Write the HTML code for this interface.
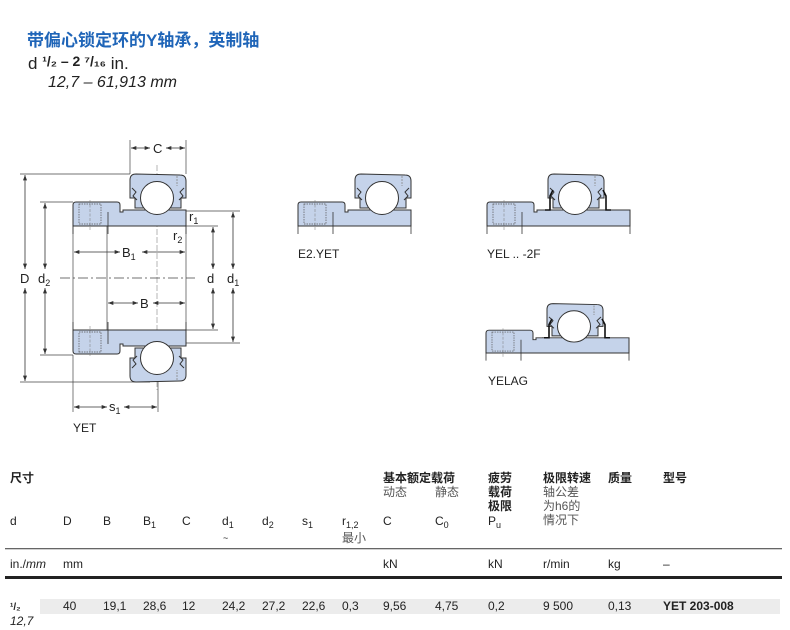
<!DOCTYPE html>
<html><head><meta charset="utf-8"><style>
body{margin:0;background:#fff;width:790px;height:630px;overflow:hidden;font-family:"Liberation Sans","Noto Sans CJK SC",sans-serif;}
svg{position:absolute;left:0;top:0}
</style></head><body>
<svg width="790" height="630" viewBox="0 0 790 630" xmlns="http://www.w3.org/2000/svg" font-family="Liberation Sans, Noto Sans CJK SC, sans-serif">
<defs>
<g id="collar">
  <path d="M0,-21 Q0,-24 3,-24 L44,-24 Q47,-24 47,-21 L47,-14 L50,-14 L50,-16 L57,-16 L57,0 L0,0 Z" fill="#c5d3ea" stroke="#333" stroke-width="1"/>
  <line x1="35" y1="-14" x2="35" y2="0" stroke="#333" stroke-width="0.8"/>
  <rect x="6" y="-22" width="22" height="20" fill="none" stroke="#555" stroke-width="0.7" stroke-dasharray="1.5,1"/>
  <line x1="17" y1="-26" x2="17" y2="4" stroke="#777" stroke-width="0.5" stroke-dasharray="3,1.5"/>
  <line x1="0" y1="0" x2="0" y2="8" stroke="#333" stroke-width="0.8"/>
  <line x1="35" y1="0" x2="35" y2="8" stroke="#333" stroke-width="0.8"/>
</g>
<g id="outer">
  <path d="M0,-46 Q0,-52 6,-52 L50,-51 Q56,-51 56,-45 L56,-28 L51,-28 L51,-18 L5,-18 L5,-28 L0,-28 Z" fill="#c5d3ea" stroke="#333" stroke-width="1"/>
  <path d="M2,-38 l4,4 l-3,4 l4,4 M54,-38 l-4,4 l3,4 l-4,4" fill="none" stroke="#333" stroke-width="1"/>
  <line x1="47" y1="-50" x2="47" y2="-40" stroke="#888" stroke-width="0.8" stroke-dasharray="2,1"/>
  <circle cx="27" cy="-28" r="16.5" fill="#fff" stroke="#333" stroke-width="1"/>
</g>
<g id="half">
  <use href="#collar"/>
  <path d="M56,-16 L113,-16 L113,0 L56,0" fill="#c5d3ea" stroke="#333" stroke-width="1"/>
  <use href="#outer" transform="translate(57,0)"/>
  <line x1="113" y1="0" x2="113" y2="8" stroke="#333" stroke-width="0.8"/>
</g>
<g id="half2">
  <use href="#collar"/>
  <path d="M56,-16 L143,-16 L143,0 L56,0" fill="#c5d3ea" stroke="#333" stroke-width="1"/>
  <use href="#outer" transform="translate(61,0)"/>
  <path d="M58,-16 L63,-16 L63,-30 L66,-36 M124,-16 L119,-16 L119,-30 L116,-36" fill="none" stroke="#111" stroke-width="1.6"/>
  <line x1="143" y1="0" x2="143" y2="8" stroke="#333" stroke-width="0.8"/>
</g>
<marker id="ar" viewBox="0 0 8 6" refX="8" refY="3" markerWidth="7" markerHeight="5" orient="auto-start-reverse"><path d="M0,0 L8,3 L0,6 Z" fill="#333"/></marker>
</defs>

<text x="27" y="46" font-size="17" font-weight="bold" fill="#1f65b8">带偏心锁定环的Y轴承，英制轴</text>
<text x="28" y="69" font-size="17" fill="#222">d <tspan font-weight="bold" font-size="14" dy="-3">¹/₂ – 2 ⁷/₁₆</tspan><tspan dy="3"> in.</tspan></text>
<text x="48" y="87" font-size="16" font-style="italic" fill="#222">12,7 – 61,913 mm</text>

<!-- main drawing -->
<g stroke="#444" stroke-width="0.7" fill="none">
<line x1="20" y1="174" x2="130" y2="174"/><line x1="20" y1="382" x2="150" y2="382"/>
<line x1="40" y1="202" x2="73" y2="202"/><line x1="40" y1="355" x2="73" y2="355"/>
<line x1="186" y1="211" x2="240" y2="211"/><line x1="186" y1="343" x2="240" y2="343"/>
<line x1="186" y1="226" x2="218" y2="226"/><line x1="186" y1="330" x2="218" y2="330"/>
<line x1="130" y1="140" x2="130" y2="174"/><line x1="186" y1="140" x2="186" y2="174"/>
<line x1="73" y1="355" x2="73" y2="412"/><line x1="158" y1="382" x2="158" y2="412"/>
<line x1="73" y1="226" x2="73" y2="330"/><line x1="107" y1="226" x2="107" y2="330"/><line x1="186" y1="226" x2="186" y2="330"/>
<line x1="60" y1="278" x2="195" y2="278" stroke-dasharray="10,3,2,3"/>
<line x1="157" y1="165" x2="157" y2="390" stroke-dasharray="6,2" stroke-width="0.4"/>
</g>
<g stroke="#333" stroke-width="0.8" marker-start="url(#ar)" marker-end="url(#ar)">
<line x1="25" y1="175" x2="25" y2="269"/><line x1="25" y1="288" x2="25" y2="381"/>
<line x1="45" y1="203" x2="45" y2="269"/><line x1="45" y1="288" x2="45" y2="354"/>
<line x1="213" y1="227" x2="213" y2="269"/><line x1="213" y1="288" x2="213" y2="329"/>
<line x1="233" y1="212" x2="233" y2="269"/><line x1="233" y1="288" x2="233" y2="342"/>
<line x1="74" y1="252" x2="120" y2="252"/><line x1="142" y1="252" x2="185" y2="252"/>
<line x1="108" y1="303" x2="138" y2="303"/><line x1="153" y1="303" x2="185" y2="303"/>
<line x1="131" y1="148" x2="150" y2="148"/><line x1="166" y1="148" x2="185" y2="148"/>
<line x1="74" y1="407" x2="107" y2="407"/><line x1="124" y1="407" x2="157" y2="407"/>
</g>
<use href="#half" transform="translate(73,226)"/>
<use href="#half" transform="translate(73,330) scale(1,-1)"/>
<g font-size="13" fill="#222">
<text x="20" y="283">D</text><text x="38" y="283">d<tspan font-size="9" dy="3">2</tspan></text>
<text x="122" y="257">B<tspan font-size="9" dy="3">1</tspan></text><text x="140" y="308">B</text>
<text x="207" y="283">d</text><text x="227" y="283">d<tspan font-size="9" dy="3">1</tspan></text>
<text x="189" y="221">r<tspan font-size="9" dy="3">1</tspan></text><text x="173" y="240">r<tspan font-size="9" dy="3">2</tspan></text>
<text x="153" y="153">C</text><text x="109" y="411">s<tspan font-size="9" dy="3">1</tspan></text>
<text x="73" y="432" font-size="12">YET</text>
</g>

<use href="#half" transform="translate(298,226)"/>
<text x="298" y="258" font-size="12" fill="#222">E2.YET</text>
<use href="#half2" transform="translate(487,226)"/>
<text x="487" y="258" font-size="12" fill="#222">YEL .. -2F</text>
<use href="#half2" transform="translate(486,353) scale(1,0.95)"/>
<text x="488" y="385" font-size="12" fill="#222">YELAG</text>

<!-- table -->
<g font-size="12" fill="#222">
<text x="10" y="482" font-weight="bold">尺寸</text>
<text x="383" y="482" font-weight="bold">基本额定载荷</text>
<text x="383" y="496" fill="#555">动态</text><text x="435" y="496" fill="#555">静态</text>
<text x="488" y="482" font-weight="bold">疲劳</text><text x="488" y="496" font-weight="bold">载荷</text><text x="488" y="510" font-weight="bold">极限</text>
<text x="543" y="482" font-weight="bold">极限转速</text>
<text x="543" y="496" fill="#555">轴公差</text><text x="543" y="510" fill="#555">为h6的</text><text x="543" y="524" fill="#555">情况下</text>
<text x="608" y="482" font-weight="bold">质量</text><text x="663" y="482" font-weight="bold">型号</text>
<text x="10" y="525">d</text><text x="63" y="525">D</text><text x="103" y="525">B</text>
<text x="143" y="525">B<tspan font-size="9" dy="3">1</tspan></text><text x="182" y="525">C</text>
<text x="222" y="525">d<tspan font-size="9" dy="3">1</tspan></text><text x="223" y="541" font-size="9">~</text>
<text x="262" y="525">d<tspan font-size="9" dy="3">2</tspan></text><text x="302" y="525">s<tspan font-size="9" dy="3">1</tspan></text>
<text x="342" y="525">r<tspan font-size="9" dy="3">1,2</tspan></text><text x="342" y="542" fill="#555">最小</text>
<text x="383" y="525">C</text><text x="435" y="525">C<tspan font-size="9" dy="3">0</tspan></text>
<text x="488" y="525">P<tspan font-size="9" dy="3">u</tspan></text>
<text x="10" y="568">in./<tspan font-style="italic">mm</tspan></text><text x="63" y="568">mm</text>
<text x="383" y="568">kN</text><text x="488" y="568">kN</text><text x="543" y="568">r/min</text><text x="608" y="568">kg</text><text x="663" y="568">–</text>
</g>
<rect x="5" y="548" width="777" height="1.3" fill="#666"/>
<rect x="5" y="576" width="777" height="3" fill="#222"/>
<rect x="40" y="599" width="740" height="15" fill="#ececec"/>
<g font-size="12" fill="#222">
<text x="10" y="610" font-weight="bold" font-size="10">¹/₂</text><text x="10" y="625" font-style="italic">12,7</text>
<text x="63" y="610">40</text><text x="103" y="610">19,1</text><text x="143" y="610">28,6</text><text x="182" y="610">12</text>
<text x="222" y="610">24,2</text><text x="262" y="610">27,2</text><text x="302" y="610">22,6</text><text x="342" y="610">0,3</text>
<text x="383" y="610">9,56</text><text x="435" y="610">4,75</text><text x="488" y="610">0,2</text><text x="543" y="610">9 500</text>
<text x="608" y="610">0,13</text><text x="663" y="610" font-weight="bold">YET 203-008</text>
</g>
</svg>
</body></html>
